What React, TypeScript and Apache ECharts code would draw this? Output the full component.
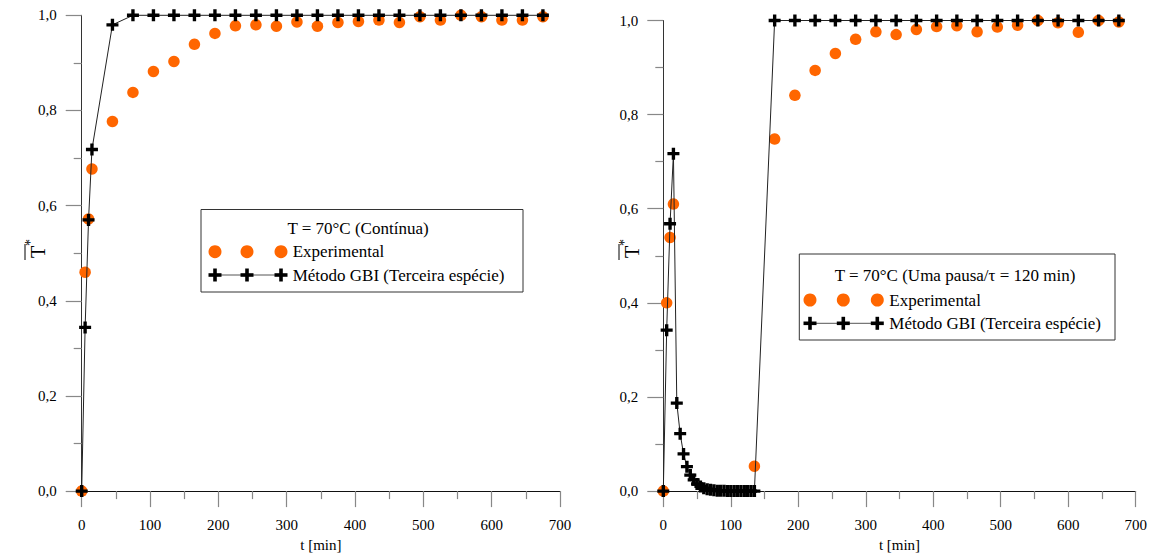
import React, { useEffect, useRef } from "react";
import * as echarts from "echarts";

// ---------- data ----------
const leftTimes = [0, 5, 10, 15, 45, 75, 105, 135, 165, 195, 225, 255, 285, 315, 345, 375, 405, 435, 465, 495, 525, 555, 585, 615, 645, 675];
const leftExp = [0, 0.46, 0.572, 0.677, 0.777, 0.838, 0.882, 0.903, 0.939, 0.962, 0.978, 0.98, 0.977, 0.986, 0.977, 0.985, 0.987, 0.99, 0.985, 0.997, 0.99, 1.0, 0.997, 0.99, 0.99, 0.997];
const leftGbi = [0, 0.344, 0.57, 0.718, 0.98, 1, 1, 1, 1, 1, 1, 1, 1, 1, 1, 1, 1, 1, 1, 1, 1, 1, 1, 1, 1, 1];

const rightExpTimes = [0, 5, 10, 15, 135, 165, 195, 225, 255, 285, 315, 345, 375, 405, 435, 465, 495, 525, 555, 585, 615, 645, 675];
const rightExp = [0, 0.4, 0.539, 0.61, 0.053, 0.748, 0.841, 0.894, 0.93, 0.96, 0.976, 0.97, 0.981, 0.987, 0.989, 0.976, 0.986, 0.99, 1.0, 0.995, 0.975, 1.0, 0.997];

const rightGbiTimes = [0, 5, 10, 15, 20, 25, 30, 35, 40, 45, 50, 55, 60, 65, 70, 75, 80, 85, 90, 95, 100, 105, 110, 115, 120, 125, 130, 135, 165, 195, 225, 255, 285, 315, 345, 375, 405, 435, 465, 495, 525, 555, 585, 615, 645, 675];
const rightGbi = [0, 0.342, 0.568, 0.717, 0.187, 0.122, 0.079, 0.052, 0.034, 0.024, 0.015, 0.01, 0.006, 0.004, 0.003, 0.002, 0.001, 0.001, 0.001, 0, 0, 0, 0, 0, 0, 0, 0, 0, 1, 1, 1, 1, 1, 1, 1, 1, 1, 1, 1, 1, 1, 1, 1, 1, 1, 1];

const xTicks = [0, 100, 200, 300, 400, 500, 600, 700];
const yTicks = [0, 0.2, 0.4, 0.6, 0.8, 1.0];

const leftTitle = "T = 70°C (Contínua)";
const rightTitle = "T = 70°C (Uma pausa/τ = 120 min)";
const expName = "Experimental";
const gbiName = "Método GBI (Terceira espécie)";
const xName = "t [min]";

const FONT = "Liberation Serif";
const ORANGE = "#FF6600";
const PLUS = "path://M3.6,0 H6.4 V3.6 H10 V6.4 H6.4 V10 H3.6 V6.4 H0 V3.6 H3.6 Z";

const pairs = (xs: number[], ys: number[]) => xs.map((x, i) => [x, ys[i]]);

function xAxisCfg(gridIndex: number) {
  return {
    type: "value",
    gridIndex,
    min: 0,
    max: 700,
    interval: 100,
    name: xName,
    nameLocation: "middle",
    nameGap: 44,
    nameTextStyle: { fontFamily: FONT, fontSize: 15, color: "#000" },
    axisLine: { show: true, onZero: false, lineStyle: { color: "#111", width: 1 } },
    axisTick: { show: true, inside: false, length: 16, lineStyle: { color: "#888", width: 1.2 } },
    minorTick: { show: true, splitNumber: 2, length: 8, lineStyle: { color: "#888", width: 1.2 } },
    splitLine: { show: false },
    minorSplitLine: { show: false },
    axisLabel: {
      fontFamily: FONT,
      fontSize: 15,
      color: "#000",
      margin: 26,
      formatter: (v: number) => (xTicks.includes(v) ? String(v) : ""),
    },
  };
}

function yAxisCfg(gridIndex: number) {
  return {
    type: "value",
    gridIndex,
    min: 0,
    max: 1,
    interval: 0.2,
    axisLine: { show: true, onZero: false, lineStyle: { color: "#333", width: 1 } },
    axisTick: { show: true, inside: false, length: 16, lineStyle: { color: "#888", width: 1.2 } },
    minorTick: { show: true, splitNumber: 2, length: 8, lineStyle: { color: "#888", width: 1.2 } },
    splitLine: { show: false },
    minorSplitLine: { show: false },
    axisLabel: {
      fontFamily: FONT,
      fontSize: 15,
      color: "#000",
      margin: 25,
      formatter: (v: number) => {
        const t = yTicks.find((k) => Math.abs(k - v) < 1e-6);
        return t === undefined ? "" : t.toFixed(1).replace(".", ",");
      },
    },
  };
}

function plusGraphic(cx: number, cy: number, size: number, thick: number) {
  return [
    { type: "rect", shape: { x: cx - size / 2, y: cy - thick / 2, width: size, height: thick }, style: { fill: "#000" } },
    { type: "rect", shape: { x: cx - thick / 2, y: cy - size / 2, width: thick, height: size }, style: { fill: "#000" } },
  ];
}

function legendGraphic(x: number, y: number, w: number, h: number, title: string, titleCx: number, titleY: number, row1Y: number, row2Y: number, mx: number[], textX: number) {
  const els: any[] = [];
  els.push({ type: "rect", shape: { x, y, width: w, height: h }, style: { fill: "#fff", stroke: "#333", lineWidth: 1 }, z: 100 });
  els.push({ type: "text", x: titleCx, y: titleY, style: { text: title, fontFamily: FONT, fontSize: 17, fill: "#000", align: "center", verticalAlign: "middle" }, z: 101 });
  mx.forEach((m) => {
    els.push({ type: "circle", shape: { cx: m, cy: row1Y, r: 6.5 }, style: { fill: ORANGE }, z: 101 });
  });
  els.push({ type: "text", x: textX, y: row1Y, style: { text: expName, fontFamily: FONT, fontSize: 17, fill: "#000", align: "left", verticalAlign: "middle" }, z: 101 });
  els.push({ type: "line", shape: { x1: mx[0], y1: row2Y, x2: mx[2], y2: row2Y }, style: { stroke: "#555", lineWidth: 1 }, z: 101 });
  mx.forEach((m) => {
    plusGraphic(m, row2Y, 13, 3.6).forEach((e) => els.push({ ...e, z: 102 }));
  });
  els.push({ type: "text", x: textX, y: row2Y, style: { text: gbiName, fontFamily: FONT, fontSize: 17, fill: "#000", align: "left", verticalAlign: "middle" }, z: 101 });
  return els;
}

function yNameGraphic(cx: number, cy: number) {
  return {
    type: "group",
    x: cx,
    y: cy,
    rotation: Math.PI / 2,
    children: [
      { type: "text", x: 0, y: 0, style: { text: "T", fontFamily: FONT, fontSize: 20, fill: "#000", align: "center", verticalAlign: "middle" } },
      { type: "text", x: 6, y: -8, style: { text: "*", fontFamily: FONT, fontSize: 14, fill: "#000", align: "left", verticalAlign: "middle" } },
      { type: "line", shape: { x1: -8, y1: -13, x2: 8, y2: -13 }, style: { stroke: "#000", lineWidth: 1 } },
    ],
  };
}

export default function App() {
  const ref = useRef<HTMLDivElement>(null);
  useEffect(() => {
    document.body.style.margin = "0";
    const chart = echarts.init(ref.current!, null, { renderer: "svg" });
    const option: any = {
      animation: false,
      backgroundColor: "#fff",
      textStyle: { fontFamily: FONT },
      grid: [
        { left: 81.7, top: 15.3, width: 478.3, height: 479, containLabel: false },
        { left: 663.3, top: 20.5, width: 472.4, height: 472, containLabel: false },
      ],
      xAxis: [xAxisCfg(0), xAxisCfg(1)],
      yAxis: [yAxisCfg(0), yAxisCfg(1)],
      series: [
        {
          type: "scatter",
          xAxisIndex: 0,
          yAxisIndex: 0,
          data: pairs(leftTimes, leftExp),
          symbol: "circle",
          symbolSize: 11.5,
          itemStyle: { color: ORANGE, opacity: 1 },
          clip: false,
          z: 2,
        },
        {
          type: "line",
          xAxisIndex: 0,
          yAxisIndex: 0,
          data: pairs(leftTimes, leftGbi),
          symbol: PLUS,
          symbolSize: 12,
          showSymbol: true,
          showAllSymbol: true,
          itemStyle: { color: "#000" },
          lineStyle: { color: "#222", width: 1 },
          clip: false,
          z: 3,
        },
        {
          type: "scatter",
          xAxisIndex: 1,
          yAxisIndex: 1,
          data: pairs(rightExpTimes, rightExp),
          symbol: "circle",
          symbolSize: 11.5,
          itemStyle: { color: ORANGE, opacity: 1 },
          clip: false,
          z: 2,
        },
        {
          type: "line",
          xAxisIndex: 1,
          yAxisIndex: 1,
          data: pairs(rightGbiTimes, rightGbi),
          symbol: PLUS,
          symbolSize: 12,
          showSymbol: true,
          showAllSymbol: true,
          itemStyle: { color: "#000" },
          lineStyle: { color: "#222", width: 1 },
          clip: false,
          z: 3,
        },
      ],
      graphic: [
        ...legendGraphic(201, 209.5, 322, 82.5, leftTitle, 358, 228, 251.7, 275, [215, 247, 281], 292.7),
        ...legendGraphic(799.3, 254, 315.7, 86, rightTitle, 955, 275, 300, 323.3, [810, 843.3, 877.3], 889.3),
        yNameGraphic(38, 252),
        yNameGraphic(632, 252),
      ],
    };
    chart.setOption(option);
    return () => chart.dispose();
  }, []);
  return <div ref={ref} style={{ position: "fixed", left: 0, top: 0, width: 1156, height: 557 }} />;
}
